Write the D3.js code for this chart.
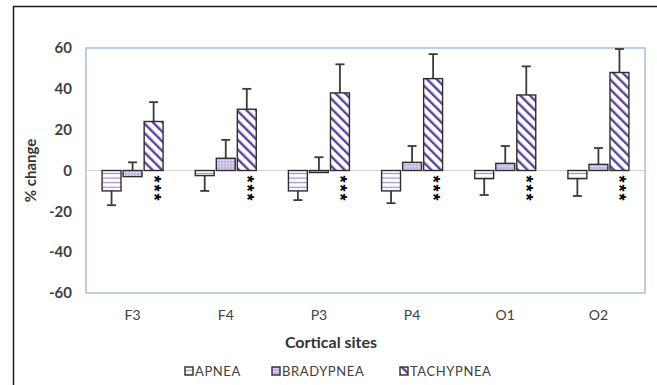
<!DOCTYPE html>
<html>
<head>
<meta charset="utf-8">
<script src="https://cdn.jsdelivr.net/npm/d3@7"></script>
<style>
  body { margin: 0; background: #fff; }
  text { font-family: Lato, "Open Sans", sans-serif; }
</style>
</head>
<body>
<div id="chart"></div>
<script>
// data
const categories = ['F3', 'F4', 'P3', 'P4', 'O1', 'O2'];
const seriesNames = ['APNEA', 'BRADYPNEA', 'TACHYPNEA'];
const apnea = [-10, -2.5, -10, -10, -4, -4];
const apneaErr = [7, 7.5, 4.5, 6, 8, 8.5];
const brady = [-3, 6, -1, 4, 3.5, 3];
const bradyErr = [7, 9, 7.5, 8, 8.5, 8];
const tachy = [24, 30, 38, 45, 37, 48];
const tachyErr = [9.5, 10, 14, 12, 14, 11.5];
const yTicks = [-60, -40, -20, 0, 20, 40, 60];
const starLabel = '***';

const width = 657, height = 385;
const plotLeft = 86, plotRight = 645, plotTop = 48, plotBottom = 293;

const svg = d3.select('#chart').append('svg')
    .attr('width', width)
    .attr('height', height);

// fill patterns
const defs = svg.append('defs');
let p1 = defs.append('pattern').attr('id', 'pApnea')
    .attr('patternUnits', 'userSpaceOnUse').attr('width', 6).attr('height', 4.6);
p1.append('rect').attr('width', 6).attr('height', 4.6).attr('fill', '#fff');
p1.append('rect').attr('y', 2.6).attr('width', 6).attr('height', 1.3).attr('fill', '#a590d0');

let p2 = defs.append('pattern').attr('id', 'pBrady')
    .attr('patternUnits', 'userSpaceOnUse').attr('width', 3).attr('height', 3);
p2.append('rect').attr('width', 3).attr('height', 3).attr('fill', '#c6b6e6');
p2.append('circle').attr('cx', 1.5).attr('cy', 1.5).attr('r', 0.8).attr('fill', '#eee8f8');

let p3 = defs.append('pattern').attr('id', 'pTachy')
    .attr('patternUnits', 'userSpaceOnUse').attr('width', 6.8).attr('height', 6.8)
    .attr('patternTransform', 'rotate(-45)');
p3.append('rect').attr('width', 6.8).attr('height', 6.8).attr('fill', '#fff');
p3.append('rect').attr('width', 2.4).attr('height', 6.8).attr('fill', '#5c42a0');

const fills = ['url(#pApnea)', 'url(#pBrady)', 'url(#pTachy)'];
const values = [apnea, brady, tachy];
const errs = [apneaErr, bradyErr, tachyErr];
const errDir = [-1, 1, 1];

// outer frame
svg.append('rect')
    .attr('x', 13.5).attr('y', 6.5)
    .attr('width', 660).attr('height', 420)
    .attr('fill', 'none').attr('stroke', '#1a1a1a').attr('stroke-width', 1.5);

const x = d3.scaleBand().domain(categories).range([plotLeft, plotRight]);
const xs = d3.scaleBand().domain(seriesNames).range([0, 61]).paddingInner(0.1);
const y = d3.scaleLinear().domain([-60, 60]).range([plotBottom, plotTop]);

// plot area
svg.append('rect')
    .attr('x', plotLeft).attr('y', plotTop)
    .attr('width', plotRight - plotLeft).attr('height', plotBottom - plotTop)
    .attr('fill', 'none').attr('stroke', '#a7bfe3').attr('stroke-width', 1.5);

svg.append('line')
    .attr('x1', plotLeft).attr('x2', plotRight)
    .attr('y1', y(0)).attr('y2', y(0))
    .attr('stroke', '#d4d4d4').attr('stroke-width', 1);

// y axis labels
const yAxis = svg.append('g')
    .attr('transform', `translate(${plotLeft},0)`)
    .call(d3.axisLeft(y).tickValues(yTicks).tickSize(0).tickPadding(14)
        .tickFormat(d => String(d)));
yAxis.select('.domain').remove();
yAxis.selectAll('text')
    .style('font-family', 'Lato, sans-serif')
    .style('font-size', '15px').style('font-weight', 'bold').attr('fill', '#404040');

// x axis labels
const xAxis = svg.append('g')
    .attr('transform', `translate(0,${plotBottom})`)
    .call(d3.axisBottom(x).tickSize(0).tickPadding(17));
xAxis.select('.domain').remove();
xAxis.selectAll('text')
    .style('font-family', 'Lato, sans-serif')
    .style('font-size', '14px').attr('fill', '#404040');

// bars
seriesNames.forEach((s, si)=>{
    const g = svg.append('g');
    const rows = categories.map((c, i)=>({c: c, v: values[si][i], e: errs[si][i]}));
    const bx = d => x(d.c) + (x.bandwidth() - 61) / 2 + xs(s);

    // error bars (drawn first so the bar covers the stem)
    g.selectAll('.stem').data(rows).enter().append('line')
        .attr('x1', d => bx(d) + xs.bandwidth() / 2)
        .attr('x2', d => bx(d) + xs.bandwidth() / 2)
        .attr('y1', d => y(d.v))
        .attr('y2', d => y(d.v + errDir[si] * d.e))
        .attr('stroke', '#3a3a3a').attr('stroke-width', 1.8);
    g.selectAll('.cap').data(rows).enter().append('line')
        .attr('x1', d => bx(d) + xs.bandwidth() / 2 - 4.5)
        .attr('x2', d => bx(d) + xs.bandwidth() / 2 + 4.5)
        .attr('y1', d => y(d.v + errDir[si] * d.e))
        .attr('y2', d => y(d.v + errDir[si] * d.e))
        .attr('stroke', '#3a3a3a').attr('stroke-width', 1.8);

    g.selectAll('.bar').data(rows).enter().append('rect')
        .attr('x', d => bx(d))
        .attr('y', d => y(Math.max(0, d.v)))
        .attr('width', xs.bandwidth())
        .attr('height', d => Math.abs(y(d.v) - y(0)))
        .attr('fill', fills[si])
        .attr('stroke', '#2e2e2e').attr('stroke-width', 1.4);

    // significance stars under the tachypnea bars
    if(s === 'TACHYPNEA'){
        g.selectAll('.star').data(rows).enter().append('text')
            .attr('transform', d => `translate(${bx(d) + xs.bandwidth() / 2 - 6},${y(0) + 5}) rotate(90)`)
            .style('font-family', '"Liberation Sans", Arial, sans-serif')
            .style('font-size', '18px').style('font-weight', 'bold')
            .style('letter-spacing', '2px')
            .attr('fill', '#000')
            .text(starLabel);
    }
});

// axis titles
svg.append('text')
    .attr('transform', `translate(36,${(plotTop + plotBottom) / 2}) rotate(-90)`)
    .attr('text-anchor', 'middle')
    .style('font-size', '15px').style('font-weight', 'bold').attr('fill', '#333')
    .text('% change');

svg.append('text')
    .attr('x', 331).attr('y', 348)
    .attr('text-anchor', 'middle')
    .style('font-size', '16px').style('font-weight', 'bold').attr('fill', '#333')
    .text('Cortical sites');

// legend
const legendX = [185, 272, 400];
const lg = svg.append('g').selectAll('g').data(seriesNames).enter().append('g')
    .attr('transform', (d, i) => `translate(${legendX[i]},367)`);
lg.append('rect')
    .attr('width', 8).attr('height', 8)
    .attr('fill', (d, i) => fills[i])
    .attr('stroke', '#2e2e2e').attr('stroke-width', 1.4);
lg.append('text')
    .attr('x', 10).attr('y', 8.5)
    .style('font-size', '13px').style('letter-spacing', '0.6px').attr('fill', '#404040')
    .text(d => d);
</script>
</body>
</html>
